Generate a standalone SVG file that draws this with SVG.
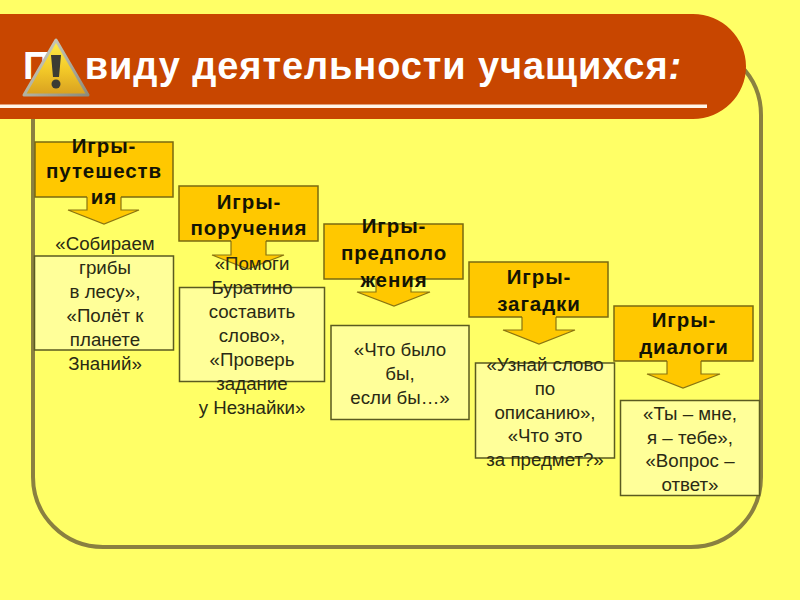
<svg xmlns="http://www.w3.org/2000/svg" width="800" height="600" viewBox="0 0 800 600">
<style>
text{font-family:"Liberation Sans",Arial,sans-serif;text-anchor:middle}
.h{font-size:20.500px;font-weight:bold;fill:#141404;letter-spacing:.9px}
.t{font-size:18.700px;fill:#2a2a14}
.b{fill:#ffc800;stroke:#7a6a10;stroke-width:1.5}
.p{fill:#ffff99;stroke:#5a5a20;stroke-width:1.5}
.a{fill:#ffc800;stroke:#8a7410;stroke-width:1.2}
</style>
<defs>
<linearGradient id="w" x1="0" y1="0" x2="0" y2="1"><stop offset="0" stop-color="#fff04a"/><stop offset=".55" stop-color="#f2c828"/><stop offset="1" stop-color="#d8a020"/></linearGradient>
<linearGradient id="r" x1="0" y1="0" x2="1" y2="1"><stop offset="0" stop-color="#d8d8c8"/><stop offset="1" stop-color="#8c8c7c"/></linearGradient>
</defs>
<rect width="800" height="600" fill="#ffff66"/>
<rect id="frame" x="33" y="45" width="728" height="502" rx="70" fill="#ffff66" stroke="#8a8040" stroke-width="4"/>
<g id="header">
<path d="M0 14H693A53 52.500 0 0 1 693 119H0Z" fill="#c84600"/>
<rect x="0" y="104.500" width="707" height="3.500" fill="#fff4e8"/>
<text x="23" y="79" style="text-anchor:start;font-size:38px;font-weight:bold;fill:#fff;letter-spacing:.9px">П<tspan dx="-6">о</tspan><tspan dx="4"> </tspan>виду деятельности учащихся<tspan font-style="italic">:</tspan></text>
</g>
<g id="warning-icon">
<path d="M56 40L24 95H88Z" fill="url(#w)" stroke="url(#r)" stroke-width="3" stroke-linejoin="round"/>
<path d="M51 55H61L59 77H53Z" fill="#3c3c34"/>
<circle cx="56" cy="84" r="4.500" fill="#3c3c34"/>
</g>
<g id="connectors">
<path class="a" d="M87 196V210H68L104 224L139 210H121V196"/>
<path class="a" d="M231 240V255H212L248 269L284 255H266V240"/>
<path class="a" d="M376 278V292H357L394 306L430 292H411V278"/>
<path class="a" d="M522 316V330H503L539 344L575 330H556V316"/>
<path class="a" d="M667 360V374H647L683 388L720 374H701V360"/>
</g>
<g id="node-1">
<path class="b" d="M87 197H35V142H173V197H121"/>
<text class="h" x="104" y="153">Игры-</text><text class="h" x="104" y="178">путешеств</text><text class="h" x="104" y="204">ия</text>
</g>
<g id="node-1-text">
<rect class="p" x="34.500" y="256" width="139" height="94"/>
<text class="t" x="105" y="250">«Собираем</text><text class="t" x="105" y="274">грибы</text><text class="t" x="105" y="298">в лесу»,</text><text class="t" x="105" y="322">«Полёт к</text><text class="t" x="105" y="346">планете</text><text class="t" x="105" y="370">Знаний»</text>
</g>
<g id="node-2">
<path class="b" d="M231 241H179V186H318V241H266"/>
<text class="h" x="249" y="209">Игры-</text><text class="h" x="249" y="235">поручения</text>
</g>
<g id="node-2-text">
<rect class="p" x="179.500" y="287.500" width="145" height="94"/>
<text class="t" x="252" y="270">«Помоги</text><text class="t" x="252" y="294">Буратино</text><text class="t" x="252" y="318">составить</text><text class="t" x="252" y="342">слово»,</text><text class="t" x="252" y="366">«Проверь</text><text class="t" x="252" y="390">задание</text><text class="t" x="252" y="414">у Незнайки»</text>
</g>
<g id="node-3">
<path class="b" d="M376 279H324V224H463V279H411"/>
<text class="h" x="394" y="233">Игры-</text><text class="h" x="394" y="260">предполо</text><text class="h" x="394" y="287">жения</text>
</g>
<g id="node-3-text">
<rect class="p" x="331" y="325.500" width="138" height="94"/>
<text class="t" x="400" y="356">«Что было</text><text class="t" x="400" y="380">бы,</text><text class="t" x="400" y="404">если бы…»</text>
</g>
<g id="node-4">
<path class="b" d="M522 317H469V262H608V317H556"/>
<text class="h" x="539" y="284">Игры-</text><text class="h" x="539" y="311">загадки</text>
</g>
<g id="node-4-text">
<rect class="p" x="475.500" y="363" width="139" height="95"/>
<text class="t" x="545" y="371">«Узнай слово</text><text class="t" x="545" y="395">по</text><text class="t" x="545" y="419">описанию»,</text><text class="t" x="545" y="442">«Что это</text><text class="t" x="545" y="466">за предмет?»</text>
</g>
<g id="node-5">
<path class="b" d="M667 361H614V306H753V361H701"/>
<text class="h" x="684" y="327">Игры-</text><text class="h" x="684" y="354">диалоги</text>
</g>
<g id="node-5-text">
<rect class="p" x="620.500" y="400.500" width="139" height="95"/>
<text class="t" x="690" y="420">«Ты – мне,</text><text class="t" x="690" y="444">я – тебе»,</text><text class="t" x="690" y="467">«Вопрос –</text><text class="t" x="690" y="491">ответ»</text>
</g>
</svg>
